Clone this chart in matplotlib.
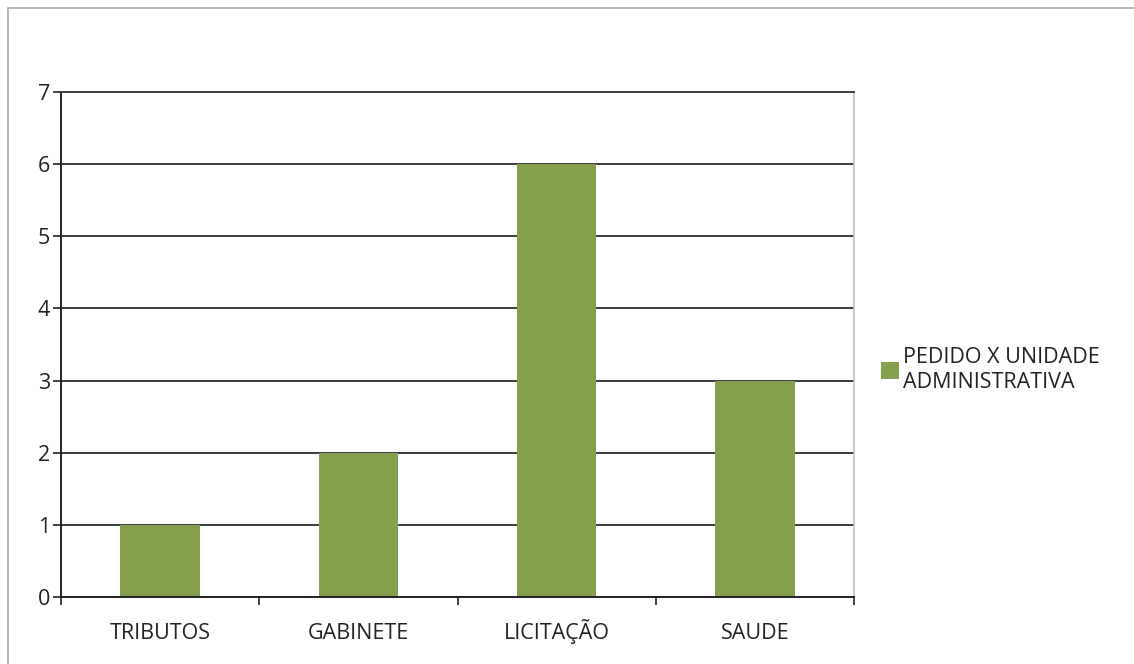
import matplotlib.pyplot as plt
from matplotlib.patches import Rectangle

categorias = ["TRIBUTOS", "GABINETE", "LICITAÇÃO", "SAUDE"]
pedidos = [1, 2, 6, 3]
serie = "PEDIDO X UNIDADE\nADMINISTRATIVA"

plt.rcParams['font.family'] = ['Open Sans', 'DejaVu Sans']
fs = 15.5
txt = '#222222'

W, H = 1134, 664
fig = plt.figure(figsize=(W / 100, H / 100), dpi=100)
fig.set_facecolor('white')

# outer frame, open on the right and bottom edges
fig.patches.append(Rectangle((8 / W, -0.1), 1.2, 1 - 8 / H + 0.1,
                             transform=fig.transFigure, fill=False,
                             edgecolor='#a8a8a8', linewidth=1.2))

ax = fig.add_axes([61 / W, 1 - 597 / H, (854 - 61) / W, (597 - 92) / H])

x = list(range(len(categorias)))
ax.bar(x, pedidos, width=0.4, color='#84a04c', label=serie, zorder=2)

ax.set_xlim(-0.5, len(categorias) - 0.5)
ax.set_ylim(0, 7)
ax.set_yticks(range(0, 8))
ax.yaxis.grid(True, color='#3c3c3c', linewidth=1.4, zorder=0)
ax.set_axisbelow(True)

# ticks at the category boundaries, labels centred under each bar
ax.set_xticks([i - 0.5 for i in range(len(categorias) + 1)])
ax.set_xticklabels([])
for xi, nome in zip(x, categorias):
    ax.annotate(nome, xy=(xi, 0), xycoords=('data', 'axes fraction'),
                xytext=(0, -42), textcoords='offset pixels',
                ha='center', va='baseline', fontsize=fs, color=txt)
ax.tick_params(axis='x', which='major', length=6, width=1.2, color='#222222')
ax.tick_params(axis='y', length=6, width=1.2, labelsize=fs, colors=txt, pad=2)

for s in ['left', 'bottom']:
    ax.spines[s].set_color('#222222')
    ax.spines[s].set_linewidth(1.4)
ax.spines['top'].set_color('#3c3c3c')
ax.spines['top'].set_linewidth(1.4)
ax.spines['right'].set_color('#c0c0c0')
ax.spines['right'].set_linewidth(1.2)

ax.legend(loc='center left', bbox_to_anchor=(872 / W, 1 - 370 / H),
          bbox_transform=fig.transFigure, frameon=False, fontsize=fs,
          handlelength=0.85, handleheight=0.85, handletextpad=0.2,
          labelspacing=0.35, labelcolor=txt, borderaxespad=0)

fig.savefig('out.png', dpi=100)
